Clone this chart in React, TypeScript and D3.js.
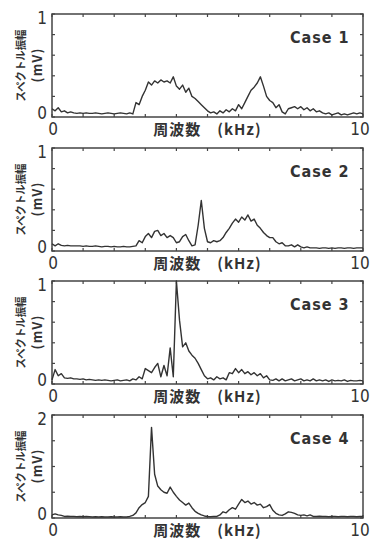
import * as d3 from 'd3'

// spectra sampled every 0.1 kHz, 0..10 kHz (101 points each)
const case1 = [
  0.08, 0.06, 0.09, 0.05, 0.06, 0.04, 0.05, 0.04, 0.035, 0.04,
  0.035, 0.04, 0.035, 0.035, 0.04, 0.035, 0.03, 0.035, 0.04, 0.035,
  0.03, 0.035, 0.04, 0.035, 0.03, 0.04, 0.03, 0.14, 0.12, 0.2,
  0.26, 0.34, 0.31, 0.35, 0.33, 0.36, 0.34, 0.35, 0.33, 0.39,
  0.3, 0.27, 0.31, 0.24, 0.28, 0.2, 0.18, 0.15, 0.12, 0.09,
  0.06, 0.04, 0.05, 0.03, 0.06, 0.04, 0.07, 0.05, 0.08, 0.06,
  0.12, 0.08, 0.14, 0.2, 0.26, 0.29, 0.33, 0.39, 0.3, 0.2,
  0.16, 0.14, 0.09, 0.12, 0.05, 0.03, 0.08, 0.09, 0.1, 0.08,
  0.1, 0.07, 0.09, 0.06, 0.08, 0.05, 0.06, 0.04, 0.03, 0.04,
  0.02, 0.03, 0.04, 0.02, 0.03, 0.02, 0.03, 0.04, 0.03, 0.04,
  0.03,
]

const case2 = [
  0.07, 0.05, 0.07, 0.055, 0.05, 0.055, 0.05, 0.05, 0.05, 0.05,
  0.045, 0.05, 0.045, 0.045, 0.05, 0.045, 0.04, 0.045, 0.045, 0.04,
  0.045, 0.04, 0.04, 0.045, 0.04, 0.04, 0.045, 0.05, 0.1, 0.08,
  0.14, 0.17, 0.13, 0.19, 0.2, 0.15, 0.17, 0.13, 0.15, 0.13,
  0.08, 0.09, 0.14, 0.16, 0.1, 0.05, 0.06, 0.25, 0.49, 0.22,
  0.09, 0.08, 0.1, 0.09, 0.1, 0.13, 0.18, 0.22, 0.27, 0.31,
  0.28, 0.33, 0.3, 0.35, 0.29, 0.31, 0.25, 0.22, 0.18, 0.15,
  0.13, 0.13, 0.09, 0.07, 0.08, 0.05, 0.05, 0.06, 0.04, 0.06,
  0.04, 0.03, 0.04, 0.03, 0.03, 0.03, 0.025, 0.03, 0.03, 0.025,
  0.03, 0.025, 0.03, 0.03, 0.025, 0.03, 0.03, 0.025, 0.03, 0.03,
  0.03,
]

const case3 = [
  0.04, 0.14, 0.08, 0.1, 0.06, 0.055, 0.06, 0.05, 0.05, 0.045,
  0.05, 0.04, 0.045, 0.04, 0.035, 0.04, 0.035, 0.04, 0.035, 0.03,
  0.035, 0.04, 0.03, 0.035, 0.04, 0.03, 0.05, 0.04, 0.07, 0.05,
  0.15, 0.13, 0.11, 0.16, 0.2, 0.07, 0.18, 0.08, 0.35, 0.07,
  1.0, 0.62, 0.36, 0.4, 0.32, 0.28, 0.25, 0.2, 0.14, 0.08,
  0.05, 0.06, 0.04, 0.07, 0.05, 0.06, 0.04, 0.11, 0.1, 0.15,
  0.11, 0.14, 0.1, 0.12, 0.09, 0.11, 0.08, 0.1, 0.06, 0.08,
  0.04, 0.035, 0.05, 0.03, 0.05, 0.03, 0.04, 0.05, 0.03, 0.04,
  0.05, 0.03, 0.04, 0.03, 0.05, 0.03, 0.04, 0.03, 0.04, 0.025,
  0.04, 0.03, 0.035, 0.03, 0.04, 0.025, 0.035, 0.03, 0.03, 0.035,
  0.03,
]

const case4 = [
  0.06, 0.08, 0.06, 0.05, 0.03, 0.035, 0.03, 0.03, 0.025, 0.03,
  0.025, 0.03, 0.025, 0.02, 0.025, 0.02, 0.025, 0.02, 0.02, 0.025,
  0.02, 0.02, 0.025, 0.02, 0.02, 0.03, 0.05, 0.1, 0.2, 0.26,
  0.3, 0.42, 1.76, 0.85, 0.62, 0.55, 0.5, 0.48, 0.6, 0.5,
  0.42, 0.35, 0.3, 0.25, 0.29, 0.2, 0.13, 0.09, 0.06, 0.04,
  0.03, 0.025, 0.03, 0.03, 0.06, 0.12, 0.1, 0.16, 0.2, 0.17,
  0.27, 0.36, 0.3, 0.33, 0.27, 0.3, 0.25, 0.27, 0.2, 0.22,
  0.26, 0.15, 0.09, 0.06, 0.05, 0.08, 0.12, 0.11, 0.09, 0.06,
  0.05, 0.06, 0.04, 0.06, 0.03, 0.03, 0.035, 0.03, 0.03, 0.025,
  0.03, 0.03, 0.025, 0.03, 0.03, 0.025, 0.03, 0.03, 0.025, 0.03,
  0.03,
]

const series = [case1, case2, case3, case4]
const caseLabels = ['Case 1', 'Case 2', 'Case 3', 'Case 4']
const yMaxes = [1, 1, 1, 2]
const xTickLabels = [0, 10]
const xLabel = '周波数\u3000(kHz)'
const yLabel = 'スペクトル振幅'
const yUnit = '(mV)'

const W = 371
const H = 541
const left = 52
const right = 363
const panelTops = [14, 148, 281, 415]
const panelH = 103
const ink = '#333'
const numFont = "'DejaVu Sans Condensed', 'DejaVu Sans', sans-serif"
const jpFont = "'Noto Sans CJK JP', sans-serif"

function Panel({ idx }: { idx: number }) {
  const top = panelTops[idx]
  const bottom = top + panelH
  const data = series[idx]
  const x = d3.scaleLinear().domain([0, 10]).range([left, right])
  const y = d3.scaleLinear().domain([0, yMaxes[idx]]).range([bottom, top])
  const line = d3
    .line<number>()
    .x((_, i) => x(i / 10))
    .y((d) => y(d))
  const xt = x.ticks(10)
  const yt = y.ticks(5)
  const tk = 3
  const midY = (top + bottom) / 2
  const labelY = bottom + 18

  return (
    <g>
      <rect
        x={left}
        y={top}
        width={right - left}
        height={panelH}
        fill="none"
        stroke="#444"
        strokeWidth={1.5}
      />
      {xt.map((t) => (
        <g key={'x' + t} stroke="#444" strokeWidth={1.2}>
          <line x1={x(t)} x2={x(t)} y1={bottom} y2={bottom - tk} />
          <line x1={x(t)} x2={x(t)} y1={top} y2={top + tk} />
        </g>
      ))}
      {yt.map((t) => (
        <g key={'y' + t} stroke="#444" strokeWidth={1.2}>
          <line x1={left} x2={left + tk} y1={y(t)} y2={y(t)} />
          <line x1={right} x2={right - tk} y1={y(t)} y2={y(t)} />
        </g>
      ))}
      <path d={line(data) || ''} fill="none" stroke={ink} strokeWidth={1.4} strokeLinejoin="round" />
      <text x={47} y={y(yMaxes[idx]) + 10} textAnchor="end" fontFamily={numFont} fontSize={17} fill={ink}>
        {yMaxes[idx]}
      </text>
      <text x={47} y={bottom + 2} textAnchor="end" fontFamily={numFont} fontSize={17} fill={ink}>
        0
      </text>
      {xTickLabels.map((t) => (
        <text
          key={'xl' + t}
          x={x(t) + (t === 0 ? 1 : -3)}
          y={labelY}
          textAnchor="middle"
          fontFamily={numFont}
          fontSize={17}
          fill={ink}
        >
          {t}
        </text>
      ))}
      <text
        x={(left + right) / 2}
        y={labelY}
        textAnchor="middle"
        fontFamily={jpFont}
        fontWeight="bold"
        fontSize={15}
        letterSpacing={1}
        fill={ink}
      >
        {xLabel}
      </text>
      <text
        x={290}
        y={top + 29}
        fontFamily={numFont}
        fontWeight="bold"
        fontSize={16}
        letterSpacing={1}
        fill={ink}
      >
        {caseLabels[idx]}
      </text>
      <text
        transform={`translate(25, ${midY}) rotate(-90)`}
        textAnchor="middle"
        fontFamily={jpFont}
        fontWeight="bold"
        fontSize={11}
        textLength={72}
        lengthAdjust="spacingAndGlyphs"
        fill={ink}
      >
        {yLabel}
      </text>
      <text
        transform={`translate(42, ${midY}) rotate(-90)`}
        textAnchor="middle"
        fontFamily={jpFont}
        fontWeight="bold"
        fontSize={13}
        textLength={34}
        fill={ink}
      >
        {yUnit}
      </text>
    </g>
  )
}

export default function App() {
  return (
    <svg
      width={W}
      height={H}
      style={{ position: 'absolute', left: 0, top: 0, background: '#fff' }}
    >
      {series.map((_, i) => (
        <Panel key={i} idx={i} />
      ))}
    </svg>
  )
}
